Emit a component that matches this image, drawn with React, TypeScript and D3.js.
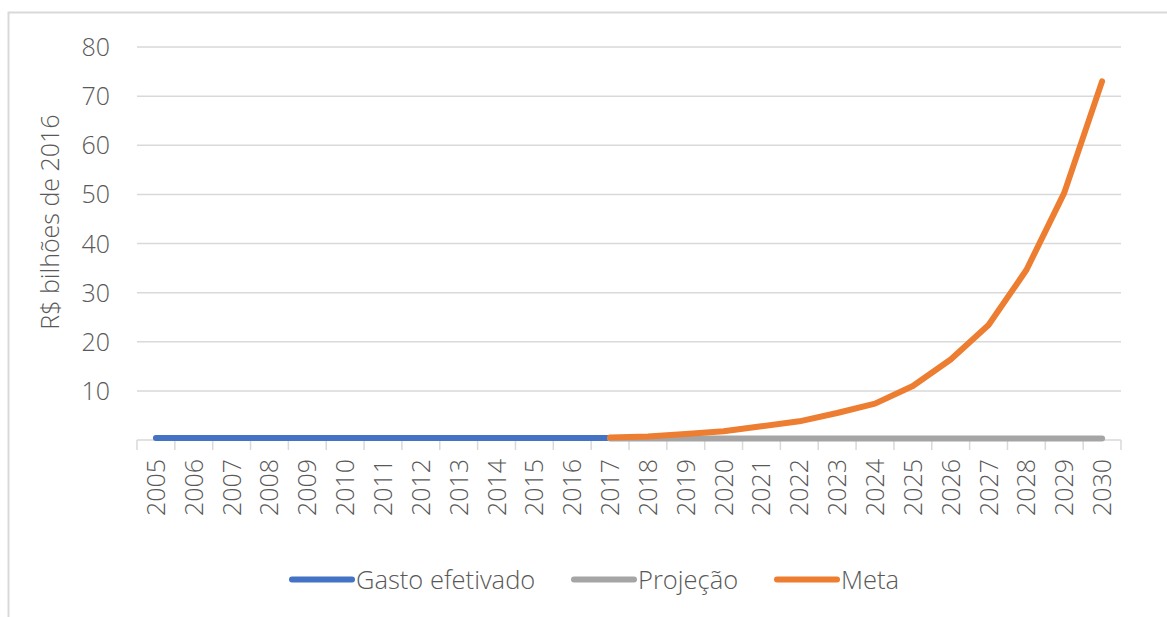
import React, { useEffect, useRef } from "react";
import * as d3 from "d3";

const years: string[] = [
  "2005","2006","2007","2008","2009","2010","2011","2012","2013","2014","2015","2016","2017",
  "2018","2019","2020","2021","2022","2023","2024","2025","2026","2027","2028","2029","2030",
];
const gastoYears: string[] = years.slice(0, 13); // 2005-2017
const gastoValues: number[] = [0.4,0.4,0.4,0.4,0.4,0.4,0.4,0.4,0.4,0.4,0.4,0.4,0.4];
const projecaoYears: string[] = years.slice(12); // 2017-2030
const projecaoValues: number[] = [0.3,0.3,0.3,0.3,0.3,0.3,0.3,0.3,0.3,0.3,0.3,0.3,0.3,0.3];
const metaYears: string[] = years.slice(12); // 2017-2030
const metaValues: number[] = [0.5,0.7,1.2,1.8,2.8,3.8,5.5,7.4,11.0,16.4,23.4,34.6,50.3,73.0];
const yTicks: number[] = [10,20,30,40,50,60,70,80];
const seriesNames: string[] = ["Gasto efetivado", "Projeção", "Meta"];
const seriesColors: string[] = ["#4472c4", "#a5a5a5", "#ed7d31"];

const W = 1167;
const H = 617;
const FONT = "'Open Sans', sans-serif";
const TXT = "#595959";
const LEGEND_X = [292, 574, 777];

export default function App() {
  const ref = useRef<SVGSVGElement | null>(null);

  useEffect(() => {
    const svg = d3.select(ref.current);
    svg.selectAll("*").remove();

    // frame
    svg.append("rect")
      .attr("x", 8.5).attr("y", 12.5)
      .attr("width", 1300).attr("height", 800)
      .attr("fill", "#fff").attr("stroke", "#d9d9d9").attr("stroke-width", 2);

    const x = d3.scaleBand<string>().domain(years).range([137, 1121]).padding(0);
    const y = d3.scaleLinear().domain([0, 80]).range([440, 47]);
    const cx = (yr: string) => (x(yr) as number) + x.bandwidth() / 2;

    // gridlines
    svg.append("g").selectAll("line").data(yTicks).join("line")
      .attr("x1", 137).attr("x2", 1121)
      .attr("y1", d => y(d)).attr("y2", d => y(d))
      .attr("stroke", "#d9d9d9").attr("stroke-width", 1.5);

    // y tick labels
    svg.append("g").selectAll("text").data(yTicks).join("text")
      .attr("x", 110).attr("y", d => y(d))
      .attr("dy", "0.36em")
      .attr("text-anchor", "end")
      .attr("font-family", FONT).attr("font-weight", 300).attr("font-size", 25)
      .attr("fill", TXT)
      .text(d => String(d));

    // y title
    svg.append("text")
      .attr("transform", `translate(59,222) rotate(-90)`)
      .attr("text-anchor", "middle")
      .attr("font-family", FONT).attr("font-weight", 300).attr("font-size", 25)
      .attr("fill", TXT)
      .text("R$ bilhões de 2016");

    // x axis line
    svg.append("line")
      .attr("x1", 137).attr("x2", 1121).attr("y1", y(0)).attr("y2", y(0))
      .attr("stroke", "#d9d9d9").attr("stroke-width", 1.5);
    const bounds = years.map(yr => x(yr) as number).concat([1121]);
    svg.append("g").selectAll("line").data(bounds).join("line")
      .attr("x1", d => d).attr("x2", d => d)
      .attr("y1", y(0)).attr("y2", y(0) + 10)
      .attr("stroke", "#d9d9d9").attr("stroke-width", 1.5);

    // x labels
    svg.append("g").selectAll("text").data(years).join("text")
      .attr("transform", d => `translate(${cx(d)},459) rotate(-90)`)
      .attr("dy", "0.36em")
      .attr("text-anchor", "end")
      .attr("font-family", FONT).attr("font-weight", 300).attr("font-size", 25)
      .attr("fill", TXT)
      .text(d => d);

    const line = d3.line<[string, number]>()
      .x(d => cx(d[0]))
      .y(d => y(d[1]));

    const series: [string, number][][] = [
      gastoYears.map((yr, i) => [yr, gastoValues[i]]),
      projecaoYears.map((yr, i) => [yr, projecaoValues[i]]),
      metaYears.map((yr, i) => [yr, metaValues[i]]),
    ];
    series.forEach((s, i) => {
      svg.append("path")
        .attr("d", line(s) as string)
        .attr("fill", "none")
        .attr("stroke", seriesColors[i])
        .attr("stroke-width", 6)
        .attr("stroke-linecap", "round")
        .attr("stroke-linejoin", "round");
    });

    // legend
    const lg = svg.append("g");
    const ly = 579.5;
    seriesNames.forEach((name, i) => {
      const lx = LEGEND_X[i];
      lg.append("line")
        .attr("x1", lx).attr("x2", lx + 60)
        .attr("y1", ly).attr("y2", ly)
        .attr("stroke", seriesColors[i]).attr("stroke-width", 6)
        .attr("stroke-linecap", "round");
      lg.append("text")
        .attr("x", lx + 64).attr("y", ly)
        .attr("dy", "0.36em")
        .attr("font-family", FONT).attr("font-weight", 300).attr("font-size", 25.5)
        .attr("fill", TXT)
        .text(name);
    });
  }, []);

  return (
    <svg
      ref={ref}
      width={W}
      height={H}
      style={{ position: "absolute", left: 0, top: 0, background: "#fff" }}
    />
  );
}
